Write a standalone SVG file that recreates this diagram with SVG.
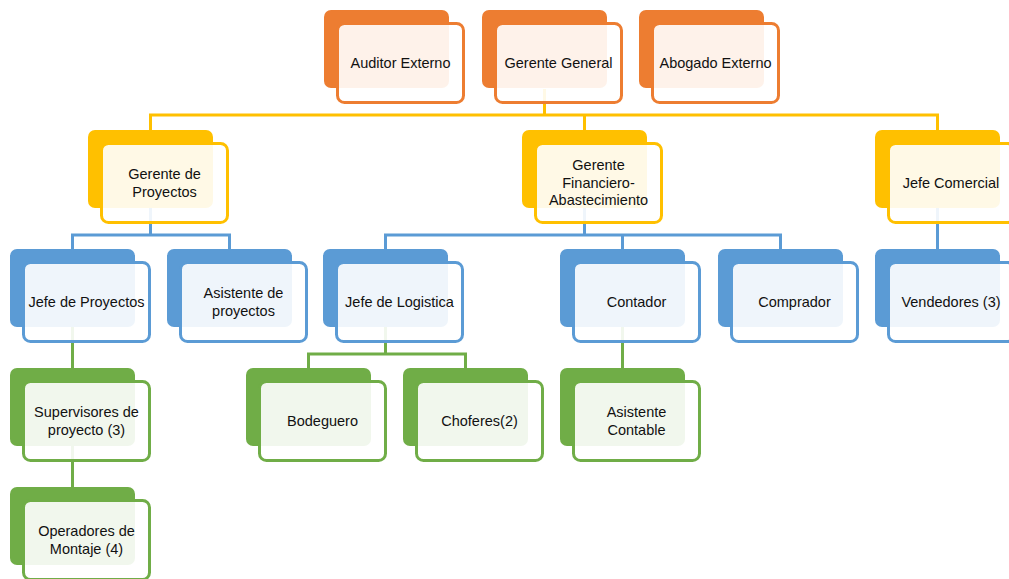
<svg xmlns="http://www.w3.org/2000/svg" width="1009" height="579" viewBox="0 0 1009 579">
  <style>
    .back{stroke:none}
    .front{fill:#ffffff;fill-opacity:0.9;stroke-width:3}
    .orange .back{fill:#ED7D31}
    .orange .front{stroke:#ED7D31}
    .yellow .back{fill:#FFC000}
    .yellow .front{stroke:#FFC000}
    .blue .back{fill:#5B9BD5}
    .blue .front{stroke:#5B9BD5}
    .green .back{fill:#70AD47}
    .green .front{stroke:#70AD47}
    text{font-family:"Liberation Sans",Arial,sans-serif;font-size:14.5px;fill:#111111;text-anchor:middle}
    .conn{fill:none;stroke-width:3;stroke-linejoin:miter}
    .c-yellow{stroke:#FFC000}
    .c-blue{stroke:#5B9BD5}
    .c-green{stroke:#70AD47}
  </style>
  <rect width="1009" height="579" fill="#ffffff"/>

  <!-- connectors (drawn under the boxes) -->
  <g id="connectors">
    <path class="conn c-yellow" d="M544.5 89 V115 M150.5 130 V115 H937.5 V130 M584.5 115 V130"/>
    <path class="conn c-blue" d="M150.5 207 V235 M72.5 249 V235 H229.5 V249"/>
    <path class="conn c-blue" d="M584.5 207 V235 M385.5 249 V235 H780.5 V249 M622.5 235 V249"/>
    <path class="conn c-blue" d="M937.5 207 V249"/>
    <path class="conn c-green" d="M72.5 327 V368"/>
    <path class="conn c-green" d="M385.5 327 V354 M308.5 368 V354 H465.5 V368"/>
    <path class="conn c-green" d="M622.5 327 V368"/>
    <path class="conn c-green" d="M72.5 446 V487"/>
  </g>

  <!-- top level -->
  <g id="auditor-externo" class="orange">
    <rect class="back" x="324" y="10" width="125" height="78" rx="7"/>
    <rect class="front" x="337.5" y="23.5" width="126" height="79" rx="7"/>
    <text x="400.5" y="68">Auditor Externo</text>
  </g>
  <g id="gerente-general" class="orange">
    <rect class="back" x="482" y="10" width="125" height="78" rx="7"/>
    <rect class="front" x="495.5" y="23.5" width="126" height="79" rx="7"/>
    <text x="558.5" y="68">Gerente General</text>
  </g>
  <g id="abogado-externo" class="orange">
    <rect class="back" x="639" y="10" width="125" height="78" rx="7"/>
    <rect class="front" x="652.5" y="23.5" width="126" height="79" rx="7"/>
    <text x="715.5" y="68">Abogado Externo</text>
  </g>

  <!-- managers -->
  <g id="gerente-proyectos" class="yellow">
    <rect class="back" x="88" y="130" width="125" height="78" rx="7"/>
    <rect class="front" x="101.5" y="143.5" width="126" height="79" rx="7"/>
    <text x="164.5" y="179">Gerente de</text>
    <text x="164.5" y="197">Proyectos</text>
  </g>
  <g id="gerente-financiero" class="yellow">
    <rect class="back" x="522" y="130" width="125" height="78" rx="7"/>
    <rect class="front" x="535.5" y="143.5" width="126" height="79" rx="7"/>
    <text x="598.5" y="170">Gerente</text>
    <text x="598.5" y="188">Financiero-</text>
    <text x="598.5" y="205">Abastecimiento</text>
  </g>
  <g id="jefe-comercial" class="yellow">
    <rect class="back" x="875" y="130" width="125" height="78" rx="7"/>
    <rect class="front" x="888.5" y="143.5" width="126" height="79" rx="7"/>
    <text x="951" y="188">Jefe Comercial</text>
  </g>

  <!-- third level -->
  <g id="jefe-proyectos" class="blue">
    <rect class="back" x="10" y="249" width="125" height="78" rx="7"/>
    <rect class="front" x="23.5" y="262.5" width="126" height="79" rx="7"/>
    <text x="86.5" y="307">Jefe de Proyectos</text>
  </g>
  <g id="asistente-proyectos" class="blue">
    <rect class="back" x="167" y="249" width="125" height="78" rx="7"/>
    <rect class="front" x="180.5" y="262.5" width="126" height="79" rx="7"/>
    <text x="243.5" y="298">Asistente de</text>
    <text x="243.5" y="316">proyectos</text>
  </g>
  <g id="jefe-logistica" class="blue">
    <rect class="back" x="323" y="249" width="125" height="78" rx="7"/>
    <rect class="front" x="336.5" y="262.5" width="126" height="79" rx="7"/>
    <text x="399.5" y="307">Jefe de Logistica</text>
  </g>
  <g id="contador" class="blue">
    <rect class="back" x="560" y="249" width="125" height="78" rx="7"/>
    <rect class="front" x="573.5" y="262.5" width="126" height="79" rx="7"/>
    <text x="636.5" y="307">Contador</text>
  </g>
  <g id="comprador" class="blue">
    <rect class="back" x="718" y="249" width="125" height="78" rx="7"/>
    <rect class="front" x="731.5" y="262.5" width="126" height="79" rx="7"/>
    <text x="794.5" y="307">Comprador</text>
  </g>
  <g id="vendedores" class="blue">
    <rect class="back" x="875" y="249" width="125" height="78" rx="7"/>
    <rect class="front" x="888.5" y="262.5" width="126" height="79" rx="7"/>
    <text x="951" y="307">Vendedores (3)</text>
  </g>

  <!-- fourth level -->
  <g id="supervisores" class="green">
    <rect class="back" x="10" y="368" width="125" height="78" rx="7"/>
    <rect class="front" x="23.5" y="381.5" width="126" height="79" rx="7"/>
    <text x="86.5" y="417">Supervisores de</text>
    <text x="86.5" y="435">proyecto (3)</text>
  </g>
  <g id="bodeguero" class="green">
    <rect class="back" x="246" y="368" width="125" height="78" rx="7"/>
    <rect class="front" x="259.5" y="381.5" width="126" height="79" rx="7"/>
    <text x="322.5" y="426">Bodeguero</text>
  </g>
  <g id="choferes" class="green">
    <rect class="back" x="403" y="368" width="125" height="78" rx="7"/>
    <rect class="front" x="416.5" y="381.5" width="126" height="79" rx="7"/>
    <text x="479.5" y="426">Choferes(2)</text>
  </g>
  <g id="asistente-contable" class="green">
    <rect class="back" x="560" y="368" width="125" height="78" rx="7"/>
    <rect class="front" x="573.5" y="381.5" width="126" height="79" rx="7"/>
    <text x="636.5" y="417">Asistente</text>
    <text x="636.5" y="435">Contable</text>
  </g>

  <!-- fifth level -->
  <g id="operadores" class="green">
    <rect class="back" x="10" y="487" width="125" height="78" rx="7"/>
    <rect class="front" x="23.5" y="500.5" width="126" height="79" rx="7"/>
    <text x="86.5" y="536">Operadores de</text>
    <text x="86.5" y="554">Montaje (4)</text>
  </g>
</svg>
